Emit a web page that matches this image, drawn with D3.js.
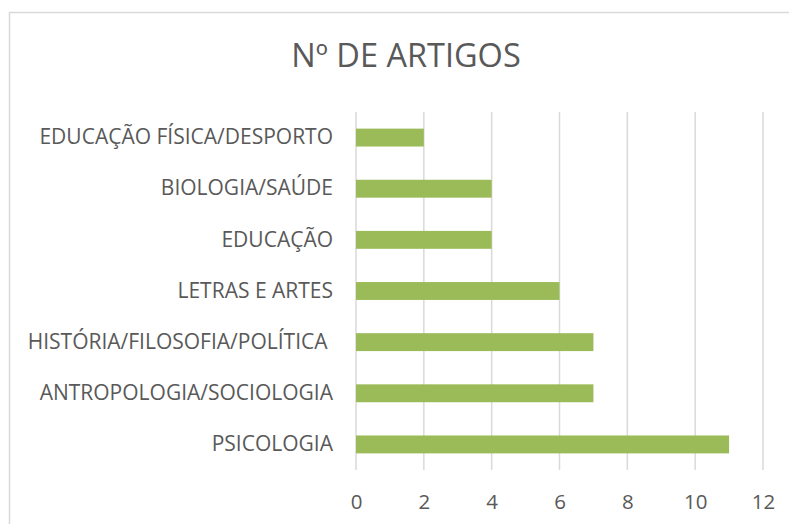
<!DOCTYPE html>
<html>
<head>
<meta charset="utf-8">
<script src="https://cdn.jsdelivr.net/npm/d3@7"></script>
<style>
  body { margin: 0; background: #fff; }
  text { font-family: "Open Sans", sans-serif; fill: #595959; white-space: pre; }
</style>
</head>
<body>
<script>
// data
var categories = ["EDUCAÇÃO FÍSICA/DESPORTO", "BIOLOGIA/SAÚDE", "EDUCAÇÃO", "LETRAS E ARTES",
                  "HISTÓRIA/FILOSOFIA/POLÍTICA ", "ANTROPOLOGIA/SOCIOLOGIA", "PSICOLOGIA"];
var values = [2, 4, 4, 6, 7, 7, 11];
var ticks = [0, 2, 4, 6, 8, 10, 12];
var title = "Nº DE ARTIGOS";

var w = 789, h = 524;
var margin = {top: 112, left: 356, right: 26, bottom: 54};

var svg = d3.select("body").append("svg")
    .attr("width", w)
    .attr("height", h);

// chart frame (runs off the right and bottom edge)
svg.append("rect")
    .attr("x", 9.5).attr("y", 12.5)
    .attr("width", w + 20).attr("height", h + 20)
    .attr("fill", "none")
    .attr("stroke", "#d9d9d9")
    .attr("stroke-width", 1.5);

var x = d3.scaleLinear()
    .domain([0, 12])
    .range([margin.left, w - margin.right]);

var y = d3.scaleBand()
    .domain(categories)
    .range([margin.top, h - margin.bottom])
    .paddingInner(0.65)
    .paddingOuter(0.325);

// gridlines
svg.append("g")
    .selectAll("line")
    .data(ticks)
    .enter().append("line")
    .attr("x1", function(d) { return x(d); })
    .attr("x2", function(d) { return x(d); })
    .attr("y1", margin.top)
    .attr("y2", h - margin.bottom)
    .attr("stroke", "#d9d9d9")
    .attr("stroke-width", 1.5);

// bars
svg.append("g")
    .selectAll("rect")
    .data(values)
    .enter().append("rect")
    .attr("x", x(0))
    .attr("y", function(d, i) { return y(categories[i]); })
    .attr("width", function(d) { return x(d) - x(0); })
    .attr("height", y.bandwidth())
    .attr("fill", "#9bbb59");

// x axis labels
var xAxis = svg.append("g")
    .attr("transform", "translate(0," + (h - margin.bottom) + ")")
    .call(d3.axisBottom(x).tickValues(ticks).tickSize(0).tickPadding(24));
xAxis.select(".domain").remove();
xAxis.selectAll("text")
    .attr("font-size", 20.5)
    .style("font-family", "'Open Sans', sans-serif")
    .attr("fill", "#595959");

// category labels
var yAxis = svg.append("g")
    .attr("transform", "translate(" + (margin.left - 23) + ",0)")
    .call(d3.axisLeft(y).tickSize(0).tickPadding(0));
yAxis.select(".domain").remove();
yAxis.selectAll("text")
    .attr("font-size", 21)
    .style("font-family", "'Open Sans', sans-serif")
    .attr("fill", "#595959");

// title
svg.append("text")
    .attr("x", 406)
    .attr("y", 67)
    .attr("text-anchor", "middle")
    .attr("font-size", 32.5)
    .text(title);
</script>
</body>
</html>
